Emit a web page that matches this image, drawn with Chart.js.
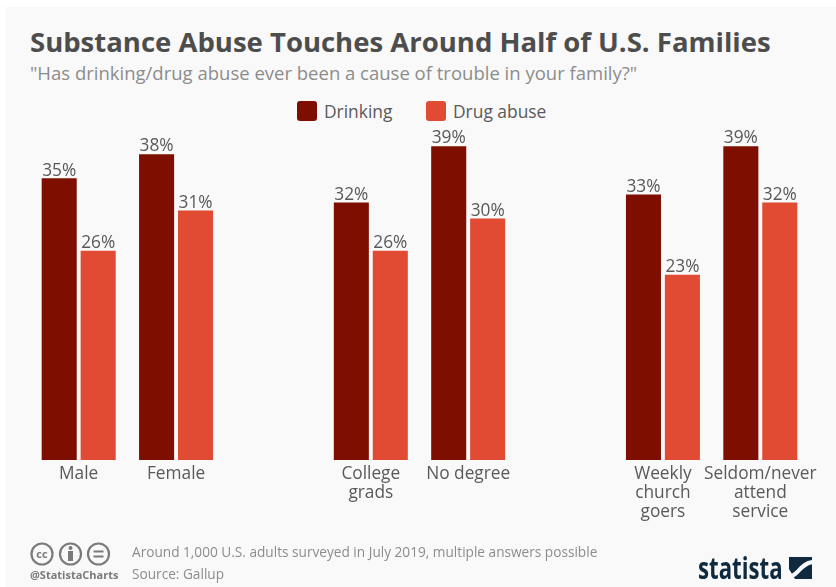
<!DOCTYPE html>
<html>
<head>
<meta charset="utf-8">
<script src="https://cdn.jsdelivr.net/npm/chart.js@4"></script>
<style>
  html, body { margin: 0; padding: 0; background: #fff; }
  body { width: 836px; height: 587px; overflow: hidden; position: relative; font-family: "Open Sans", sans-serif; }
  #panel { position: absolute; left: 5px; top: 7px; right: 0; bottom: 0; background: #f9f9f9; }
  #chartBox { position: absolute; left: 0; top: 90px; width: 836px; height: 497px; }
  .txt { position: absolute; white-space: nowrap; }
  #title { left: 30px; top: 23px; font-size: 27.5px; font-weight: 700; color: #4d4d4d; line-height: 38px; }
  #subtitle { left: 30px; top: 60px; font-size: 18.5px; color: #8c8c8c; line-height: 26px; }
  #note { left: 132px; top: 542px; font-size: 13.65px; color: #8c8c8c; line-height: 20px; }
  #source { left: 132px; top: 564px; font-size: 13.65px; color: #8c8c8c; line-height: 20px; }
  #handle { left: 30px; top: 568px; font-size: 11px; font-weight: 700; color: #7a7a7a; line-height: 14px; }
  #logoText { left: 698px; top: 547px; font-size: 30px; font-weight: 700; color: #0f2a3f; line-height: 42px; transform: scaleX(0.74); transform-origin: left top; }
  .legendBox { position: absolute; top: 101px; width: 20px; height: 20px; border-radius: 3px; }
  .legendText { top: 99px; font-size: 17.4px; color: #595959; line-height: 24px; }
  svg { position: absolute; }
</style>
</head>
<body>
<div id="panel"></div>
<div id="title" class="txt">Substance Abuse Touches Around Half of U.S. Families</div>
<div id="subtitle" class="txt">"Has drinking/drug abuse ever been a cause of trouble in your family?"</div>
<div id="legend"></div>
<div id="chartBox"><canvas id="myChart" width="836" height="497"></canvas></div>
<svg style="left:30px;top:541px" width="82" height="26" fill="none" stroke="#7a7a7a" stroke-width="2.2">
  <circle cx="12" cy="13" r="10.5"></circle>
  <circle cx="40.5" cy="13" r="10.5"></circle>
  <circle cx="68.5" cy="13" r="10.5"></circle>
  <text x="12" y="17" font-family="Open Sans" font-size="11" font-weight="700" text-anchor="middle" fill="#7a7a7a" stroke="none">cc</text>
  <circle cx="40.5" cy="7" r="2" fill="#7a7a7a" stroke="none"></circle>
  <rect x="38" y="10" width="5" height="10" fill="#7a7a7a" stroke="none"></rect>
  <path d="M63.5 10.5h10M63.5 15.5h10"></path>
</svg>
<div id="handle" class="txt">@StatistaCharts</div>
<div id="note" class="txt">Around 1,000 U.S. adults surveyed in July 2019, multiple answers possible</div>
<div id="source" class="txt">Source: Gallup</div>
<div id="logoText" class="txt">statista</div>
<svg style="left:789px;top:557px" width="23" height="22">
  <rect width="23" height="22" fill="#0f2a3f"></rect>
  <path d="M-1 20 C9 20 11 6 24 5" fill="none" stroke="#f9f9f9" stroke-width="4"></path>
  <path d="M0 22 L0 12 L6 22 Z" fill="#f9f9f9"></path>
</svg>
<script>
var categories = [
  "Male",
  "Female",
  "",
  ["College", "grads"],
  "No degree",
  "",
  ["Weekly", "church", "goers"],
  ["Seldom/never", "attend", "service"],
];
var drinking = [35, 38, null, 32, 39, null, 33, 39];
var drugAbuse = [26, 31, null, 26, 30, null, 23, 32];

var valueLabels = {
  id: "valueLabels",
  afterDatasetsDraw: function (chart) {
    var ctx = chart.ctx;
    ctx.save();
    ctx.font = "17.3px 'Open Sans'";
    ctx.fillStyle = "#595959";
    ctx.textAlign = "center";
    ctx.textBaseline = "bottom";
    chart.data.datasets.forEach(function (ds, i) {
      chart.getDatasetMeta(i).data.forEach(function (bar, j) {
        if (ds.data[j] === null) return;
        ctx.fillText(ds.data[j] + "%", bar.x, bar.y + 1);
      });
    });
    ctx.restore();
  },
};

var ctx = document.getElementById("myChart").getContext("2d");
var chart = new Chart(ctx, {
  type: "bar",
  data: {
    labels: categories,
    datasets: [
      {
        label: "Drinking",
        data: drinking,
        backgroundColor: "#7e0f00",
        categoryPercentage: 0.8,
        barPercentage: 0.9,
      },
      {
        label: "Drug abuse",
        data: drugAbuse,
        backgroundColor: "#e14a33",
        categoryPercentage: 0.8,
        barPercentage: 0.9,
      },
    ],
  },
  options: {
    responsive: false,
    animation: false,
    layout: { padding: { left: 30, right: 27, top: 32, bottom: 60 } },
    plugins: {
      title: { display: false },
      tooltip: { enabled: false },
      legend: { display: false },
    },
    scales: {
      x: {
        grid: { display: false, drawTicks: false },
        border: { display: false },
        ticks: {
          color: "#595959",
          autoSkip: false,
          maxRotation: 0,
          minRotation: 0,
          padding: 5,
          font: { family: "Open Sans", size: 17.3, lineHeight: 1.1 },
        },
      },
      y: { display: false, min: 0, max: 42 },
    },
  },
  plugins: [valueLabels],
});

// legend built from the datasets, the built-in one ties item gap to plot height
var legendX = [297, 426];
var legendEl = document.getElementById("legend");
chart.data.datasets.forEach(function (ds, i) {
  var box = document.createElement("div");
  box.className = "legendBox";
  box.style.left = legendX[i] + "px";
  box.style.background = ds.backgroundColor;
  legendEl.appendChild(box);
  var label = document.createElement("div");
  label.className = "txt legendText";
  label.style.left = legendX[i] + 27 + "px";
  label.textContent = ds.label;
  legendEl.appendChild(label);
});
</script>
</body>
</html>
